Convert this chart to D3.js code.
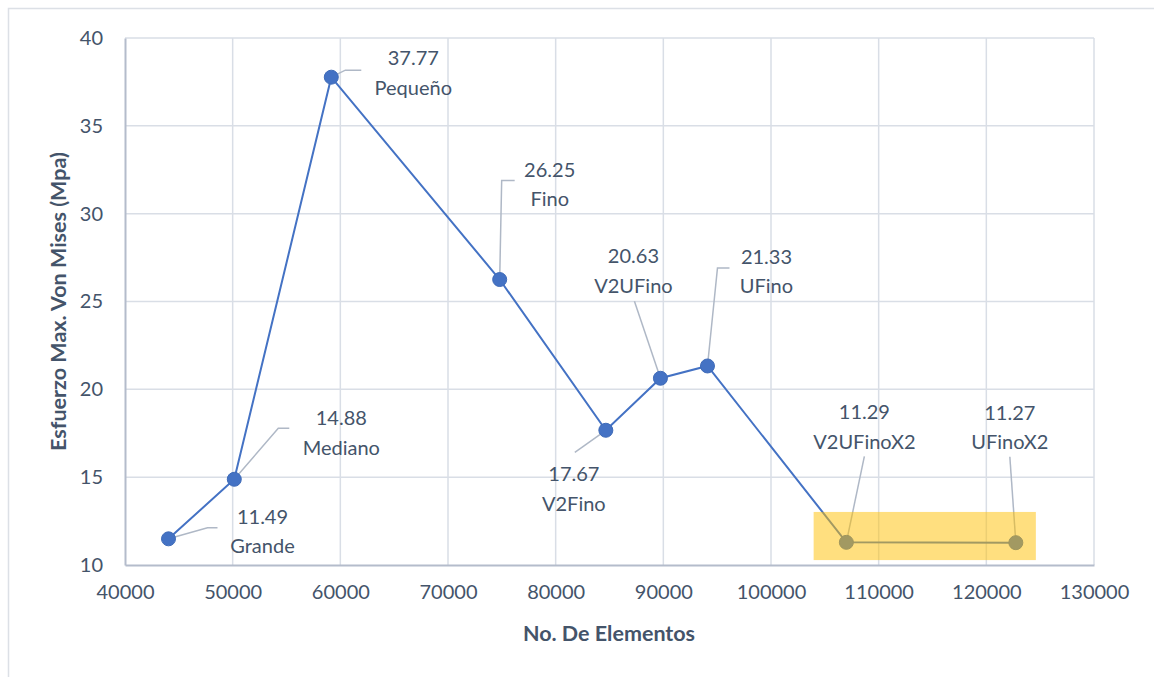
<!DOCTYPE html>
<html>
<head>
<meta charset="utf-8">
<script src="https://cdn.jsdelivr.net/npm/d3@7"></script>
<style>
  html, body { margin: 0; padding: 0; background: #fff; }
  svg text { font-family: Lato, "Open Sans", sans-serif; }
</style>
</head>
<body>
<svg id="chart" width="1154" height="677"></svg>
<script>
// Mesh refinement study: element count vs. max. Von Mises stress
const meshNames = ["Grande", "Mediano", "Pequeño", "Fino", "V2Fino", "V2UFino", "UFino", "V2UFinoX2", "UFinoX2"];
const elementCounts = [44040, 50150, 59160, 74800, 84660, 89730, 94100, 107000, 122740];
const stressValues = [11.49, 14.88, 37.77, 26.25, 17.67, 20.63, 21.33, 11.29, 11.27];

const xTicks = [40000, 50000, 60000, 70000, 80000, 90000, 100000, 110000, 120000, 130000];
const yTicks = [10, 15, 20, 25, 30, 35, 40];

// Converged region highlight (data units)
const highlightX = [103960, 124600];
const highlightY = [10.28, 13.02];

// Label placement per point: text centre offset and leader elbow offset (px)
const labelLayout = [
  { tx: 94,  ty: -13, elbow: [[39, -11], [49, -11]] },
  { tx: 107, ty: -52, elbow: [[44, -51], [55, -51]] },
  { tx: 82,  ty: -10, elbow: [[14, -7], [30, -7]] },
  { tx: 50,  ty: -101, elbow: [[2, -99], [15, -99]] },
  { tx: -32, ty: 53,  elbow: [[-31, 22]] },
  { tx: -27, ty: -113, elbow: [[-26, -77]] },
  { tx: 59,  ty: -100, elbow: [[10, -98], [22, -98]] },
  { tx: 18,  ty: -121, elbow: [[18, -86]] },
  { tx: -6,  ty: -121, elbow: [[-6, -86]] }
];

const svg = d3.select("#chart");
const margin = { left: 125, top: 38, right: 1094, bottom: 565 };

const x = d3.scaleLinear().domain([40000, 130000]).range([margin.left, margin.right]);
const y = d3.scaleLinear().domain([10, 40]).range([margin.bottom, margin.top]);

const textColor = "#44546A";
const gridColor = "#D9DEE6";

// Outer chart frame
svg.append("rect")
  .attr("x", 8.5).attr("y", 8.5)
  .attr("width", 1160).attr("height", 700)
  .attr("fill", "none").attr("stroke", "#DCE0E6").attr("stroke-width", 1.5);

// Gridlines
const grid = svg.append("g");
grid.selectAll("line.v").data(xTicks.slice(1)).join("line")
  .attr("x1", d => x(d)).attr("x2", d => x(d))
  .attr("y1", y(40)).attr("y2", y(10))
  .attr("stroke", gridColor).attr("stroke-width", 1.5);
grid.selectAll("line.h").data(yTicks.slice(1)).join("line")
  .attr("x1", x(40000)).attr("x2", x(130000))
  .attr("y1", d => y(d)).attr("y2", d => y(d))
  .attr("stroke", gridColor).attr("stroke-width", 1.5);

// Axes
const xAxis = svg.append("g")
  .attr("transform", `translate(0,${margin.bottom})`)
  .call(d3.axisBottom(x).tickValues(xTicks).tickSize(0).tickPadding(20).tickFormat(d3.format("d")));
const yAxis = svg.append("g")
  .attr("transform", `translate(${margin.left},0)`)
  .call(d3.axisLeft(y).tickValues(yTicks).tickSize(0).tickPadding(22));
[xAxis, yAxis].forEach(g => {
  g.select(".domain").attr("stroke", "#B4BCCB").attr("stroke-width", 2);
  g.selectAll("text").attr("fill", textColor).style("font-size", "20px");
});

// Axis titles
svg.append("text")
  .attr("x", 609).attr("y", 641)
  .attr("text-anchor", "middle")
  .attr("fill", textColor).style("font-size", "21.5px").style("font-weight", "bold")
  .text("No. De Elementos");
svg.append("text")
  .attr("transform", `translate(66,${(margin.top + margin.bottom) / 2}) rotate(-90)`)
  .attr("text-anchor", "middle")
  .attr("fill", textColor).style("font-size", "21.5px").style("font-weight", "bold")
  .text("Esfuerzo Max. Von Mises (Mpa)");

const points = meshNames.map((name, i) => ({
  name, n: elementCounts[i], s: stressValues[i], layout: labelLayout[i]
}));

// Leader lines
svg.append("g").selectAll("path").data(points).join("path")
  .attr("d", d => {
    const px = x(d.n), py = y(d.s);
    const pts = [[px, py]].concat(d.layout.elbow.map(([dx, dy]) => [px + dx, py + dy]));
    return d3.line()(pts);
  })
  .attr("fill", "none").attr("stroke", "#AFB8C6").attr("stroke-width", 1.5);

// Series line and markers
svg.append("path").datum(points)
  .attr("d", d3.line().x(d => x(d.n)).y(d => y(d.s)))
  .attr("fill", "none").attr("stroke", "#4472C4").attr("stroke-width", 2);
svg.append("g").selectAll("circle").data(points).join("circle")
  .attr("cx", d => x(d.n)).attr("cy", d => y(d.s)).attr("r", 7)
  .attr("fill", "#4472C4").attr("stroke", "#3F6BB8").attr("stroke-width", 1);

// Data labels: value over mesh name
const labels = svg.append("g").selectAll("text").data(points).join("text")
  .attr("text-anchor", "middle")
  .attr("fill", textColor).style("font-size", "20px")
  .attr("transform", d => `translate(${x(d.n) + d.layout.tx},${y(d.s) + d.layout.ty})`);
labels.append("tspan").attr("x", 0).attr("dy", "-0.1em").text(d => d3.format(".2f")(d.s));
labels.append("tspan").attr("x", 0).attr("dy", "1.47em").text(d => d.name);

// Highlight band over the converged meshes
svg.append("rect")
  .attr("x", x(highlightX[0])).attr("width", x(highlightX[1]) - x(highlightX[0]))
  .attr("y", y(highlightY[1])).attr("height", y(highlightY[0]) - y(highlightY[1]))
  .attr("fill", "#FFC000").attr("fill-opacity", 0.5);
</script>
</body>
</html>
